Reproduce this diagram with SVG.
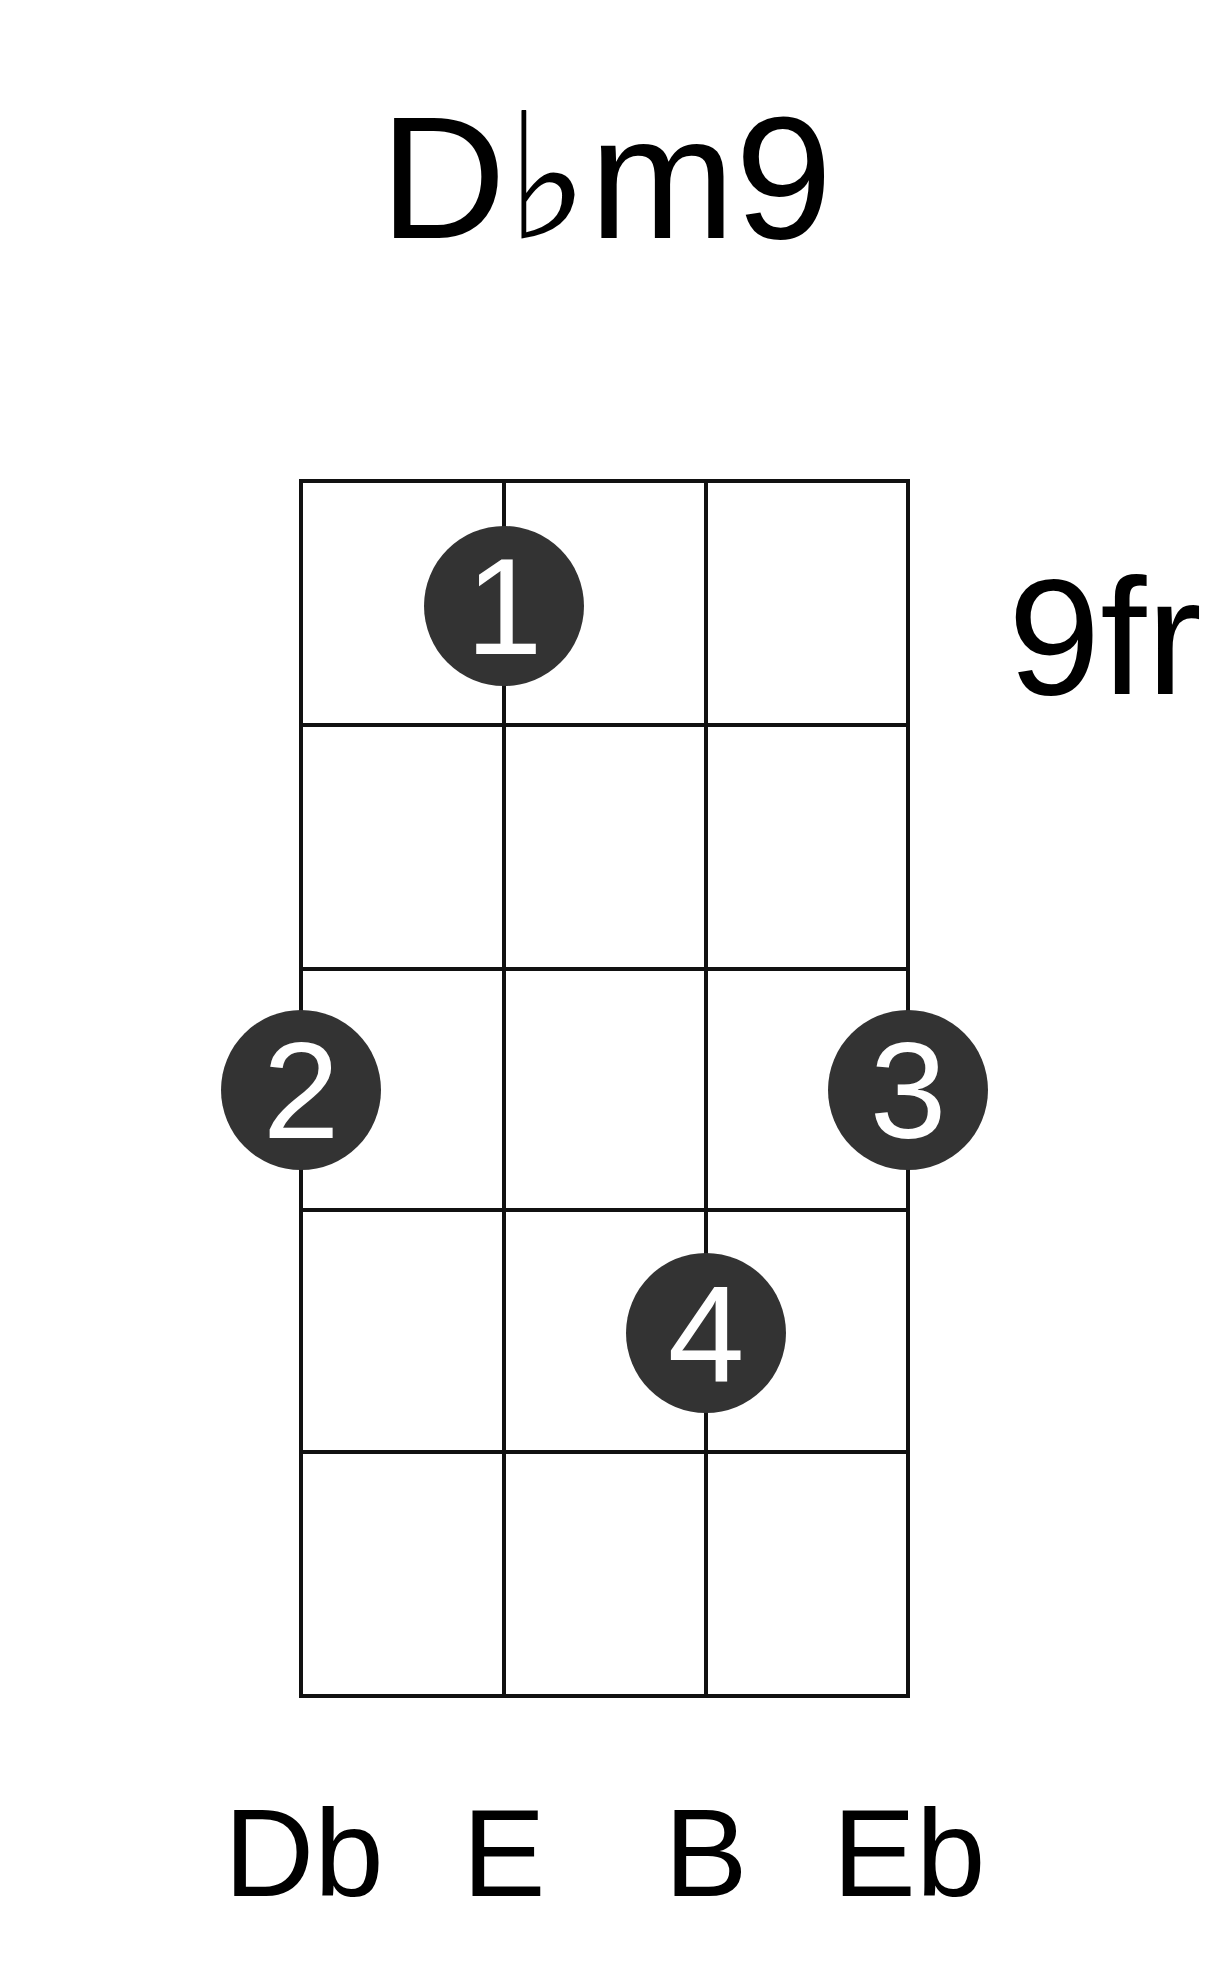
<svg xmlns="http://www.w3.org/2000/svg" width="1221" height="1977" viewBox="0 0 1221 1977">
<style>
text{font-family:"Liberation Sans",Arial,sans-serif;}
.g{stroke:#111;stroke-width:4;fill:none}
.d{fill:#333}
.n{fill:#fff;font-size:138px;text-anchor:middle}
.s{font-size:125px;text-anchor:middle;fill:#000}
</style>
<rect width="1221" height="1977" fill="#fff"/>
<g id="title"><text x="606" y="238" font-size="175" text-anchor="middle">D♭m9</text></g>
<g id="fret"><text x="1008" y="694" font-size="166">9fr</text></g>
<g id="grid" class="g">
<rect x="301" y="481" width="607" height="1215"/>
<line x1="504" y1="481" x2="504" y2="1696"/>
<line x1="706" y1="481" x2="706" y2="1696"/>
<line x1="301" y1="725" x2="908" y2="725"/>
<line x1="301" y1="969" x2="908" y2="969"/>
<line x1="301" y1="1210" x2="908" y2="1210"/>
<line x1="301" y1="1452" x2="908" y2="1452"/>
</g>
<g id="dot1"><circle class="d" cx="504" cy="606" r="80"/><text class="n" x="504" y="654">1</text></g>
<g id="dot2"><circle class="d" cx="301" cy="1090" r="80"/><text class="n" x="301" y="1138">2</text></g>
<g id="dot3"><circle class="d" cx="908" cy="1090" r="80"/><text class="n" x="908" y="1138">3</text></g>
<g id="dot4"><circle class="d" cx="706" cy="1333" r="80"/><text class="n" x="706" y="1381">4</text></g>
<g id="strings">
<text class="s" x="304" y="1896">Db</text>
<text class="s" x="504" y="1896">E</text>
<text class="s" x="706" y="1896">B</text>
<text class="s" x="909" y="1896">Eb</text>
</g>
</svg>
